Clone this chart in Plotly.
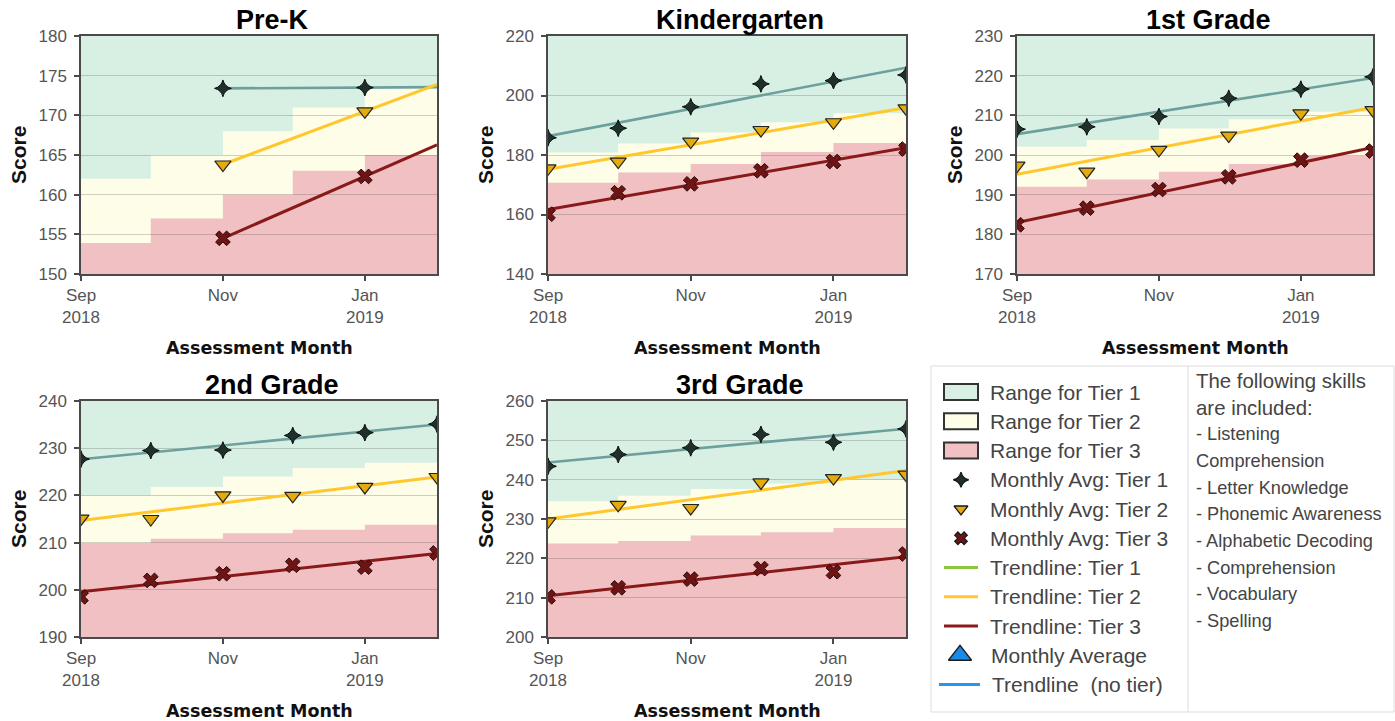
import numpy as np
import pandas as pd
import plotly.graph_objects as go

W, H = 1395, 721

# ---------------- data ----------------
months = ["2018-09-01", "2018-10-01", "2018-11-01", "2018-12-01", "2019-01-01", "2019-02-01"]
tick_vals = ["2018-09-01", "2018-11-01", "2019-01-01"]
tick_text = ["Sep<br>2018", "Nov", "Jan<br>2019"]

grades = ["Pre-K", "Kindergarten", "1st Grade", "2nd Grade", "3rd Grade"]

prek_t1 = [None, None, 173.4, None, 173.5, None]
prek_t2 = [None, None, 163.8, None, 170.5, None]
prek_t3 = [None, None, 154.5, None, 162.3, None]
prek_t3_top = [153.9, 157.0, 160.0, 163.0, 165.0]
prek_t2_top = [162.0, 165.0, 168.0, 171.0, 173.4]

k_t1 = [185.8, 189.0, 196.2, 203.9, 205.0, 206.9]
k_t2 = [175.5, 177.8, 184.5, 188.4, 191.0, 195.7]
k_t3 = [160.1, 167.3, 170.3, 174.7, 177.8, 182.0]
k_t3_top = [170.7, 174.1, 177.0, 181.0, 184.0]
k_t2_top = [180.8, 183.9, 187.6, 191.0, 194.0]

g1_t1 = [206.5, 207.1, 209.7, 214.3, 216.6, 219.7]
g1_t2 = [197.3, 195.8, 201.3, 204.9, 210.5, 211.3]
g1_t3 = [182.4, 186.6, 191.3, 194.5, 198.7, 201.0]
g1_t3_top = [192.0, 193.8, 195.8, 197.7, 199.8]
g1_t2_top = [202.1, 203.8, 206.7, 209.0, 210.9]

g2_t1 = [227.7, 229.5, 229.6, 232.7, 233.3, 235.1]
g2_t2 = [215.1, 215.0, 220.0, 219.9, 221.8, 223.9]
g2_t3 = [198.5, 202.0, 203.4, 205.2, 204.8, 207.8]
g2_t3_top = [209.9, 210.8, 212.0, 212.7, 213.8]
g2_t2_top = [220.0, 221.8, 224.0, 225.8, 226.9]

g3_t1 = [243.4, 246.4, 248.1, 251.5, 249.5, 252.9]
g3_t2 = [229.4, 233.6, 232.8, 239.3, 240.4, 241.3]
g3_t3 = [210.2, 212.5, 214.7, 217.4, 216.6, 221.1]
g3_t3_top = [223.8, 224.4, 225.8, 226.6, 227.7]
g3_t2_top = [234.5, 235.9, 237.6, 239.0, 240.0]

y_ranges = [[150, 180], [140, 220], [170, 230], [190, 240], [200, 260]]
y_dticks = [5, 20, 10, 10, 10]

legend_labels = ["Range for Tier 1", "Range for Tier 2", "Range for Tier 3",
                 "Monthly Avg: Tier 1", "Monthly Avg: Tier 2", "Monthly Avg: Tier 3",
                 "Trendline: Tier 1", "Trendline: Tier 2", "Trendline: Tier 3",
                 "Monthly Average", "Trendline  (no tier)"]
skills_header = ["The following skills", "are included:"]
skills_list = ["- Listening", "Comprehension", "- Letter Knowledge", "- Phonemic Awareness",
               "- Alphabetic Decoding", "- Comprehension", "- Vocabulary", "- Spelling"]

# ---------------- styles ----------------
BAND_T1 = "#d8f0e3"
BAND_T2 = "#fefde7"
BAND_T3 = "#f0c0c2"
TREND_T1 = "#6d9f9d"
TREND_T2 = "#ffc72c"
TREND_T3 = "#8a1a1a"
LEG_TREND_T1 = "#8cc63f"
BLUE = "#2196f3"
FONT = "Liberation Sans, Arial, sans-serif"

# plot areas in pixels: left, right, top, bottom
boxes = [(81, 437, 36, 274), (548, 906, 36, 274), (1017, 1373, 36, 274),
         (81, 437, 401, 637), (548, 906, 401, 637)]

series = [
    (prek_t1, prek_t2, prek_t3, prek_t3_top, prek_t2_top),
    (k_t1, k_t2, k_t3, k_t3_top, k_t2_top),
    (g1_t1, g1_t2, g1_t3, g1_t3_top, g1_t2_top),
    (g2_t1, g2_t2, g2_t3, g2_t3_top, g2_t2_top),
    (g3_t1, g3_t2, g3_t3, g3_t3_top, g3_t2_top),
]

dates = pd.to_datetime(months)


def trend(vals):
    idx = [i for i, v in enumerate(vals) if v is not None]
    days = np.array([(dates[i] - dates[0]).days for i in idx], float)
    ys = np.array([vals[i] for i in idx], float)
    a, b = np.polyfit(days, ys, 1)
    xd = np.array([days[0], (dates[-1] - dates[0]).days], float)
    return [months[idx[0]], months[-1]], list(a * xd + b)


def step_path(tops, ymin):
    p = f"M {months[0]},{ymin}"
    for i, t in enumerate(tops):
        p += f" L {months[i]},{t} L {months[i + 1]},{t}"
    p += f" L {months[len(tops)]},{ymin} Z"
    return p


def px(x):
    return x / W


def py(y):
    return 1 - y / H


fig = go.Figure()
shapes = []
annotations = []
axes = {}

for k, (g, (t1, t2, t3, t3top, t2top), yr, dt, box) in enumerate(
        zip(grades, series, y_ranges, y_dticks, boxes), start=1):
    sx = "" if k == 1 else str(k)
    xa, ya = "x" + sx, "y" + sx
    xl, xr, yt, yb = box
    axes["xaxis" + sx] = dict(
        domain=[px(xl), px(xr)], anchor=ya, type="date",
        range=[months[0], months[-1]], tickmode="array",
        tickvals=tick_vals, ticktext=tick_text,
        showgrid=False, zeroline=False, showline=True, mirror=True,
        linecolor="#4a4a4a", linewidth=1.5, ticks="outside", ticklen=5,
        tickcolor="#4a4a4a", tickwidth=1.5, automargin=False,
        tickfont=dict(family=FONT, size=17, color="#555555"),
        fixedrange=True)
    axes["yaxis" + sx] = dict(
        domain=[py(yb), py(yt)], anchor=xa, range=yr, tick0=yr[0], dtick=dt,
        showgrid=True, gridcolor="rgba(70,70,70,0.25)", gridwidth=1.3,
        zeroline=False, showline=True, mirror=True,
        linecolor="#4a4a4a", linewidth=1.5, ticks="outside", ticklen=5,
        tickcolor="#4a4a4a", tickwidth=1.5, ticklabelstandoff=4, automargin=False,
        tickfont=dict(family=FONT, size=17, color="#555555"),
        fixedrange=True)

    # tier bands (below grid lines)
    shapes.append(dict(type="rect", xref=xa, yref=ya, x0=months[0], x1=months[-1],
                       y0=yr[0], y1=yr[1], fillcolor=BAND_T1, line=dict(width=0),
                       layer="below"))
    shapes.append(dict(type="path", xref=xa, yref=ya, path=step_path(t2top, yr[0]),
                       fillcolor=BAND_T2, line=dict(width=0), layer="below"))
    shapes.append(dict(type="path", xref=xa, yref=ya, path=step_path(t3top, yr[0]),
                       fillcolor=BAND_T3, line=dict(width=0), layer="below"))

    # trendlines
    for vals, col, lw in ((t1, TREND_T1, 2.6), (t2, TREND_T2, 3), (t3, TREND_T3, 3)):
        tx, ty = trend(vals)
        fig.add_trace(go.Scatter(x=tx, y=ty, mode="lines", xaxis=xa, yaxis=ya,
                                 line=dict(color=col, width=lw), showlegend=False,
                                 hoverinfo="skip"))
    # monthly averages
    fig.add_trace(go.Scatter(x=months, y=t1, mode="markers", xaxis=xa, yaxis=ya,
                             marker=dict(symbol="star-diamond", size=12, color="#1f302a",
                                         line=dict(color="#0d0d0d", width=1)),
                             showlegend=False))
    fig.add_trace(go.Scatter(x=months, y=t2, mode="markers", xaxis=xa, yaxis=ya,
                             marker=dict(symbol="triangle-down", size=14, color="#e3ac0c",
                                         line=dict(color="#222222", width=1.2)),
                             showlegend=False))
    fig.add_trace(go.Scatter(x=months, y=t3, mode="markers", xaxis=xa, yaxis=ya,
                             marker=dict(symbol="x", size=13, color="#6e1414",
                                         line=dict(color="#2a0a0a", width=1)),
                             showlegend=False))

    cx = (xl + xr) / 2
    annotations.append(dict(text="<b>" + g + "</b>", x=px(cx + 13), y=py(yt - 16),
                            xref="paper", yref="paper", showarrow=False,
                            xanchor="center", yanchor="middle",
                            font=dict(family=FONT, size=27, color="#000000")))
    annotations.append(dict(text="<b>Score</b>", x=px(xl - 63), y=py((yt + yb) / 2),
                            xref="paper", yref="paper", showarrow=False, textangle=-90,
                            xanchor="center", yanchor="middle",
                            font=dict(family=FONT, size=21, color="#111111")))
    annotations.append(dict(text="<b>Assessment Month</b>", x=px(cx), y=py(yb + 74),
                            xref="paper", yref="paper", showarrow=False,
                            xanchor="center", yanchor="middle",
                            font=dict(family="DejaVu Sans", size=17.5, color="#111111")))

# ---------------- legend panel ----------------
shapes.append(dict(type="rect", xref="paper", yref="paper", x0=px(931), x1=px(1394),
                   y0=py(712), y1=py(366), line=dict(color="#dddddd", width=1),
                   fillcolor="rgba(0,0,0,0)", layer="above"))
shapes.append(dict(type="line", xref="paper", yref="paper", x0=px(1188), x1=px(1188),
                   y0=py(712), y1=py(366), line=dict(color="#dddddd", width=1),
                   layer="above"))

row_y = [392 + 29.25 * i for i in range(len(legend_labels))]
for i, lab in enumerate(legend_labels):
    tx = 988 if i < 9 else (989 if i == 9 else 990)
    annotations.append(dict(text=lab, x=px(tx), y=py(row_y[i]), xref="paper", yref="paper",
                            showarrow=False, xanchor="left", yanchor="middle",
                            font=dict(family=FONT, size=21, color="#444444")))

for i, col in enumerate([BAND_T1, BAND_T2, BAND_T3]):
    shapes.append(dict(type="rect", xref="paper", yref="paper", x0=px(944), x1=px(978),
                       y0=py(row_y[i] + 8), y1=py(row_y[i] - 8), fillcolor=col,
                       line=dict(color="#333333", width=2), layer="above"))
for i, col in zip([6, 7, 8], [LEG_TREND_T1, TREND_T2, TREND_T3]):
    shapes.append(dict(type="line", xref="paper", yref="paper", x0=px(944), x1=px(978),
                       y0=py(row_y[i]), y1=py(row_y[i]), line=dict(color=col, width=3),
                       layer="above"))
shapes.append(dict(type="line", xref="paper", yref="paper", x0=px(939), x1=px(980),
                   y0=py(row_y[10]), y1=py(row_y[10]), line=dict(color=BLUE, width=3),
                   layer="above"))

# legend marker glyphs on a pixel-space overlay axis
leg_sym = ["star-diamond", "triangle-down", "x", "triangle-up"]
leg_col = ["#1f302a", "#e3ac0c", "#6e1414", "#1a8ae8"]
leg_size = [11, 12, 11, 20]
leg_rows = [3, 4, 5, 9]
fig.add_trace(go.Scatter(x=[961, 961, 961, 960], y=[row_y[r] for r in leg_rows],
                         mode="markers", xaxis="x6", yaxis="y6",
                         marker=dict(symbol=leg_sym, color=leg_col, size=leg_size,
                                     opacity=1, line=dict(color="#1a1a1a", width=1.3)),
                         showlegend=False, hoverinfo="skip"))
axes["xaxis6"] = dict(domain=[0, 1], range=[0, W], visible=False, anchor="y6", fixedrange=True)
axes["yaxis6"] = dict(domain=[0, 1], range=[H, 0], visible=False, anchor="x6", fixedrange=True)

skill_lines = skills_header + skills_list
for i, line in enumerate(skill_lines):
    annotations.append(dict(text=line, x=px(1194), y=py(381 + 26.65 * i),
                            xref="paper", yref="paper", showarrow=False,
                            xanchor="left", yanchor="middle",
                            font=dict(family=FONT, size=20.4 if i < 2 else 18.2,
                                      color="#444444")))

fig.update_layout(width=W, height=H, margin=dict(l=0, r=0, t=0, b=0, autoexpand=False),
                  paper_bgcolor="white", plot_bgcolor="rgba(0,0,0,0)",
                  showlegend=False, shapes=shapes, annotations=annotations, **axes)

fig.write_html("out.html", config={"displayModeBar": False},
               post_script="document.body.style.margin='0';document.body.style.overflow='hidden';")
